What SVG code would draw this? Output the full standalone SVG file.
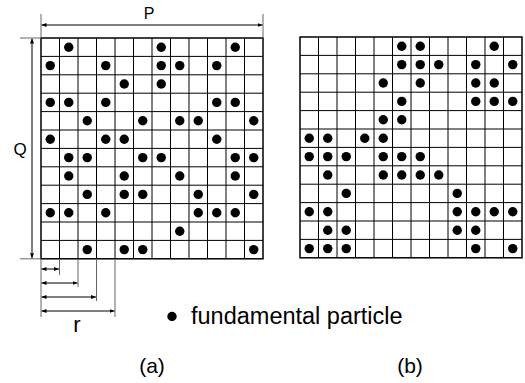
<svg xmlns="http://www.w3.org/2000/svg" width="525" height="383" viewBox="0 0 525 383">
<style>
.grid{fill:none;stroke:#000;stroke-width:1}
.border{fill:none;stroke:#000;stroke-width:1.5}
.dim{fill:none;stroke:#666;stroke-width:1}
.arr{fill:none;stroke:#000;stroke-width:1;marker-start:url(#ah);marker-end:url(#ah)}
.dot{fill:#000}
text{font-family:"Liberation Sans",Arial,sans-serif;fill:#000}
</style>
<defs>
<marker id="ah" viewBox="0 0 5 4" refX="5" refY="2" markerWidth="5" markerHeight="4" markerUnits="userSpaceOnUse" orient="auto-start-reverse">
<path d="M0,0 L5,2 L0,4 z" fill="#000"/>
</marker>
<path id="lines" class="grid" d="M18.5,0V220.8M37,0V220.8M55.5,0V220.8M74,0V220.8M92.5,0V220.8M111,0V220.8M129.5,0V220.8M148,0V220.8M166.5,0V220.8M185,0V220.8M203.5,0V220.8M0,18.4H222M0,36.8H222M0,55.2H222M0,73.6H222M0,92H222M0,110.4H222M0,128.8H222M0,147.2H222M0,165.6H222M0,184H222M0,202.4H222"/>
<circle id="d" r="4.7" class="dot"/>
</defs>
<rect width="525" height="383" fill="#fff"/>

<g id="grid-a" transform="translate(41,38)">
<use href="#lines"/>
<rect class="border" x="0" y="0" width="222" height="220.8"/>
<g id="dots-a">
<use href="#d" x="27.75" y="9.2"/><use href="#d" x="120.25" y="9.2"/><use href="#d" x="194.25" y="9.2"/>
<use href="#d" x="9.25" y="27.6"/><use href="#d" x="64.75" y="27.6"/><use href="#d" x="120.25" y="27.6"/><use href="#d" x="138.75" y="27.6"/><use href="#d" x="175.75" y="27.6"/>
<use href="#d" x="83.25" y="46"/><use href="#d" x="120.25" y="46"/>
<use href="#d" x="9.25" y="64.4"/><use href="#d" x="27.75" y="64.4"/><use href="#d" x="64.75" y="64.4"/><use href="#d" x="175.75" y="64.4"/><use href="#d" x="194.25" y="64.4"/>
<use href="#d" x="46.25" y="82.8"/><use href="#d" x="101.75" y="82.8"/><use href="#d" x="138.75" y="82.8"/><use href="#d" x="157.25" y="82.8"/><use href="#d" x="212.75" y="82.8"/>
<use href="#d" x="9.25" y="101.2"/><use href="#d" x="64.75" y="101.2"/><use href="#d" x="83.25" y="101.2"/><use href="#d" x="175.75" y="101.2"/>
<use href="#d" x="27.75" y="119.6"/><use href="#d" x="46.25" y="119.6"/><use href="#d" x="101.75" y="119.6"/><use href="#d" x="120.25" y="119.6"/><use href="#d" x="194.25" y="119.6"/><use href="#d" x="212.75" y="119.6"/>
<use href="#d" x="27.75" y="138"/><use href="#d" x="83.25" y="138"/><use href="#d" x="138.75" y="138"/><use href="#d" x="194.25" y="138"/>
<use href="#d" x="46.25" y="156.4"/><use href="#d" x="83.25" y="156.4"/><use href="#d" x="101.75" y="156.4"/><use href="#d" x="157.25" y="156.4"/><use href="#d" x="212.75" y="156.4"/>
<use href="#d" x="9.25" y="174.8"/><use href="#d" x="27.75" y="174.8"/><use href="#d" x="64.75" y="174.8"/><use href="#d" x="157.25" y="174.8"/><use href="#d" x="175.75" y="174.8"/><use href="#d" x="194.25" y="174.8"/>
<use href="#d" x="138.75" y="193.2"/>
<use href="#d" x="46.25" y="211.6"/><use href="#d" x="83.25" y="211.6"/><use href="#d" x="101.75" y="211.6"/><use href="#d" x="212.75" y="211.6"/>
</g>
</g>

<g id="grid-b" transform="translate(300,37)">
<use href="#lines"/>
<rect class="border" x="0" y="0" width="222" height="220.8"/>
<g id="dots-b">
<use href="#d" x="101.75" y="9.2"/><use href="#d" x="120.25" y="9.2"/><use href="#d" x="194.25" y="9.2"/>
<use href="#d" x="101.75" y="27.6"/><use href="#d" x="120.25" y="27.6"/><use href="#d" x="138.75" y="27.6"/><use href="#d" x="175.75" y="27.6"/><use href="#d" x="212.75" y="27.6"/>
<use href="#d" x="83.25" y="46"/><use href="#d" x="120.25" y="46"/><use href="#d" x="175.75" y="46"/><use href="#d" x="194.25" y="46"/>
<use href="#d" x="101.75" y="64.4"/><use href="#d" x="175.75" y="64.4"/><use href="#d" x="194.25" y="64.4"/><use href="#d" x="212.75" y="64.4"/>
<use href="#d" x="83.25" y="82.8"/><use href="#d" x="101.75" y="82.8"/>
<use href="#d" x="9.25" y="101.2"/><use href="#d" x="27.75" y="101.2"/><use href="#d" x="64.75" y="101.2"/><use href="#d" x="83.25" y="101.2"/>
<use href="#d" x="9.25" y="119.6"/><use href="#d" x="27.75" y="119.6"/><use href="#d" x="46.25" y="119.6"/><use href="#d" x="83.25" y="119.6"/><use href="#d" x="101.75" y="119.6"/><use href="#d" x="120.25" y="119.6"/>
<use href="#d" x="27.75" y="138"/><use href="#d" x="83.25" y="138"/><use href="#d" x="101.75" y="138"/><use href="#d" x="120.25" y="138"/><use href="#d" x="138.75" y="138"/>
<use href="#d" x="46.25" y="156.4"/><use href="#d" x="157.25" y="156.4"/>
<use href="#d" x="9.25" y="174.8"/><use href="#d" x="27.75" y="174.8"/><use href="#d" x="157.25" y="174.8"/><use href="#d" x="175.75" y="174.8"/><use href="#d" x="194.25" y="174.8"/><use href="#d" x="212.75" y="174.8"/>
<use href="#d" x="27.75" y="193.2"/><use href="#d" x="46.25" y="193.2"/><use href="#d" x="157.25" y="193.2"/><use href="#d" x="175.75" y="193.2"/>
<use href="#d" x="9.25" y="211.6"/><use href="#d" x="27.75" y="211.6"/><use href="#d" x="46.25" y="211.6"/><use href="#d" x="175.75" y="211.6"/><use href="#d" x="212.75" y="211.6"/>
</g>
</g>

<g id="connectors">
<path class="dim" d="M41,14V38M263,14V38"/>
<path class="arr" d="M41.5,25H262.5"/>
<path class="dim" d="M20,38H41M20,258.8H41"/>
<path class="arr" d="M32,38.5V258.3"/>
<path class="dim" d="M41,258.8V317M59.5,258.8V275M78,258.8V287M96.5,258.8V301M115,258.8V317"/>
<path class="arr" d="M41.5,269H59"/>
<path class="arr" d="M41.5,283H77.5"/>
<path class="arr" d="M41.5,297H96"/>
<path class="arr" d="M41.5,311H114.5"/>
</g>

<g id="labels">
<text x="149" y="19" font-size="16" text-anchor="middle">P</text>
<text x="20" y="155" font-size="17" text-anchor="middle">Q</text>
<text x="77" y="332" font-size="22" text-anchor="middle">r</text>
<circle cx="172" cy="316.5" r="4.7" class="dot"/>
<text x="191" y="324" font-size="23.5">fundamental particle</text>
<text x="152" y="373" font-size="21" text-anchor="middle">(a)</text>
<text x="410" y="373" font-size="21" text-anchor="middle">(b)</text>
</g>
</svg>
